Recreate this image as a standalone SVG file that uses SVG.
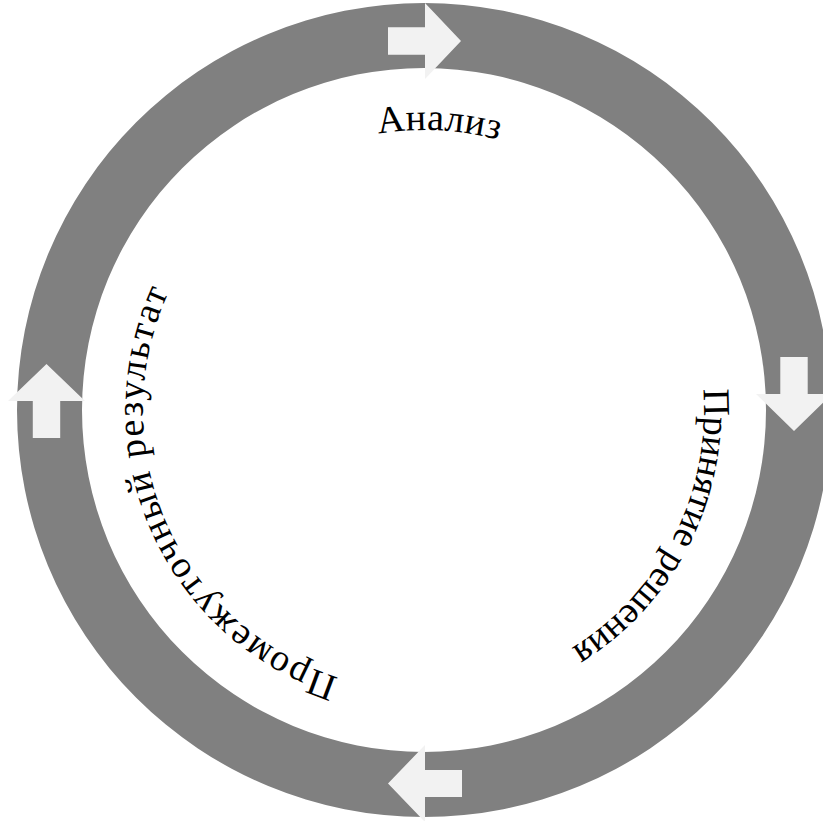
<svg xmlns="http://www.w3.org/2000/svg" xmlns:xlink="http://www.w3.org/1999/xlink" width="823" height="821" viewBox="0 0 823 821">
<style>
.ring{fill:#808080;fill-rule:evenodd}
.arr{fill:#f2f2f2}
.lbl{font-family:"Liberation Serif","Times New Roman",serif;font-size:38px;fill:#000}
</style>
<defs>
<path id="pA" d="M409.35,689.62 A280,280 0 0 1 438.65,130.38 A280,280 0 0 1 409.35,689.62"/>
<path id="pB" d="M174.5,282.9 A280,280 0 0 1 673.5,537.1 A280,280 0 0 1 174.5,282.9"/>
<path id="pC" d="M681.3,296.6 A280,280 0 0 1 166.7,523.4 A280,280 0 0 1 681.3,296.6"/>
</defs>
<rect width="823" height="821" fill="#fff"/>
<g id="cycle-ring">
<path class="ring" d="M17,410 A407,407 0 1 0 831,410 A407,407 0 1 0 17,410 Z M82,410 A342,342 0 1 1 766,410 A342,342 0 1 1 82,410 Z"/>
</g>
<g id="connectors">
<polygon class="arr" points="388,27.3 425,27.3 425,3 461,41 425,79 425,54.7 388,54.7"/>
<polygon class="arr" points="780.3,357 807.7,357 807.7,394 832,394 794,431 756,394 780.3,394"/>
<polygon class="arr" points="462,770 425,770 425,745 388,783.5 425,822 425,797 462,797"/>
<polygon class="arr" points="32.8,438 60.2,438 60.2,401 85,401 46.5,364 8,401 32.8,401"/>
</g>
<g id="node-analysis">
<text class="lbl" text-anchor="middle"><textPath xlink:href="#pA" href="#pA" startOffset="50%" textLength="121" lengthAdjust="spacing">Анализ</textPath></text>
</g>
<g id="node-decision">
<text class="lbl" text-anchor="middle"><textPath xlink:href="#pB" href="#pB" startOffset="50%" textLength="306" lengthAdjust="spacing">Принятие решения</textPath></text>
</g>
<g id="node-intermediate">
<text class="lbl" text-anchor="middle"><textPath xlink:href="#pC" href="#pC" startOffset="50%" textLength="476" lengthAdjust="spacing">Промежуточный результат</textPath></text>
</g>
</svg>
